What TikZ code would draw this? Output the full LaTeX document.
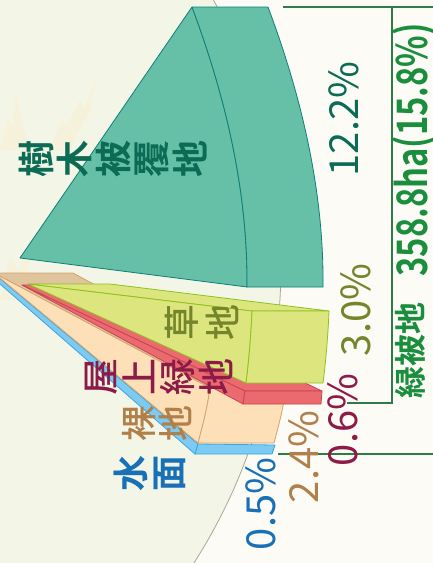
\documentclass[tikz,border=0pt]{standalone}
\usepackage{graphicx}
\usepackage{fontspec}
\setmainfont{Noto Sans CJK JP}[BoldFont={Noto Sans CJK JP Bold}]
\newfontfamily\jpmedium{Noto Sans CJK JP Medium}
\usetikzlibrary{positioning}
\definecolor{bgout}{HTML}{FCFBF6}
\definecolor{bgin}{HTML}{F3F6E6}
\definecolor{rimgray}{HTML}{ABA69C}
\definecolor{leafcol}{HTML}{F8F0D6}
\definecolor{treefill}{HTML}{66C0A8}
\definecolor{treeline}{HTML}{0E7F78}
\definecolor{treetext}{HTML}{0B6B55}
\definecolor{grassfill}{HTML}{DDE67E}
\definecolor{grassline}{HTML}{8CC21E}
\definecolor{grasstext}{HTML}{74852C}
\definecolor{rooffill}{HTML}{EB6A70}
\definecolor{roofline}{HTML}{C84650}
\definecolor{rooftext}{HTML}{8C1B48}
\definecolor{barefill}{HTML}{FDE0B8}
\definecolor{baretop}{HTML}{DFC49D}
\definecolor{bareline}{HTML}{D2A46E}
\definecolor{baretext}{HTML}{B1804A}
\definecolor{waterfill}{HTML}{7DCBF3}
\definecolor{waterline}{HTML}{3AA5DF}
\definecolor{watertext}{HTML}{1870B6}
\definecolor{greentext}{HTML}{1A8E3C}
\definecolor{greenline}{HTML}{2E7B48}
\tikzset{
    % wedge faces
    face/.style={line width=0.8pt, line join=round},
    % stacked (vertical) japanese labels
    vtext/.style={
    rotate=90,
    align=center,
    inner sep=0pt,
    font=\jpmedium\fontsize{37}{38.5}\selectfont
    },
    % percentages
    pct/.style={
    rotate=90,
    inner sep=0pt,
    font=\fontsize{40}{40}\selectfont
    },
    bracket/.style={greenline, line width=1.1pt},
}

\begin{document}
\begin{tikzpicture}[x=1pt,y=-1pt]
    \useasboundingbox (0,0) rectangle (433,563);
    \clip (0,0) rectangle (433,563);

    % background and rim of the pie
    \fill[bgout] (0,0) rectangle (433,563);
    \fill[bgin] (-272,265) circle[radius=553pt];
    \draw[rimgray, line width=0.8pt] (-272,265) circle[radius=553pt];
    \fill[leafcol, opacity=0.7] (0,150) -- (8,118) -- (12,126) -- (16,92) -- (22,122) -- (30,150) -- cycle;
    \fill[leafcol, opacity=0.7] (48,150) -- (62,120) -- (66,128) -- (80,100) -- (84,108) -- (96,80) -- (90,112) -- (78,132) -- (70,150) -- cycle;
    \fill[leafcol, opacity=0.7] (0,300) -- (10,255) -- (18,270) -- (30,240) -- (28,275) -- (20,300) -- cycle;

    % water
    \filldraw[face, fill=waterfill, draw=waterline] (-8,272) -- (198,444) -- (195,454) -- (-8,277) -- cycle;
    \filldraw[face, fill=waterfill, draw=waterline] (198,444) -- (275,445) -- (272,454) -- (195,454) -- cycle;

    % bare ground
    \filldraw[face, fill=baretop, draw=bareline] (-6,273) -- (73,273) -- (286,388) -- (210,388) -- cycle;
    \filldraw[face, fill=barefill, draw=bareline] (-6,273) -- (210,388) .. controls (207,410) and (202,428) .. (198,443) -- cycle;
    \filldraw[face, fill=barefill, draw=bareline] (210,388) -- (286,388) .. controls (283,410) and (278,428) .. (274,443)
        -- (198,443) .. controls (202,428) and (207,410) .. (210,388);

    % roof greening
    \filldraw[face, fill=rooffill, draw=roofline] (22,285) -- (99,285) -- (322,391) -- (245,391) -- cycle;
    \filldraw[face, fill=rooffill, draw=roofline] (22,285) -- (245,391) -- (243,404) -- cycle;
    \filldraw[face, fill=rooffill, draw=roofline] (245,391) -- (322,391) -- (321,404) -- (243,404) -- cycle;

    % grass
    \filldraw[face, fill=grassfill, draw=grassline] (28,284) -- (110,284) -- (329,311) -- (252,311) -- cycle;
    \filldraw[face, fill=grassfill, draw=grassline] (28,284) -- (252,311) .. controls (251,335) and (249,360) .. (246,383) -- cycle;
    \filldraw[face, fill=grassfill, draw=grassline] (252,311) -- (329,311) .. controls (328,335) and (326,360) .. (323,383)
        -- (246,383) .. controls (249,360) and (251,335) .. (252,311);

    % tree cover
    \filldraw[face, fill=treefill, draw=treeline] (20,258) -- (192,7) .. controls (225,95) and (248,190) .. (247,287) -- cycle;
    \filldraw[face, fill=treefill, draw=treeline] (192,7) -- (268,7) .. controls (301,95) and (324,190) .. (323,287)
        -- (247,287) .. controls (248,190) and (225,95) .. (192,7);

    % bracket for the green total
    \coordinate (brtop) at (283,7);
    \coordinate (brtopend) at (433,7);
    \coordinate (brcorner) at (392,7);
    \coordinate (brbottom) at (392,403);
    \coordinate (brfoot) at (347,403);
    \coordinate (baseL) at (278,454);
    \coordinate (baseR) at (433,454);
    \draw[bracket] (brtop) -- (brtopend);
    \draw[bracket] (brcorner) -- (brbottom) -- (brfoot);
    \draw[bracket] (baseL) -- (baseR);

    % names
    \node (treelab)  [vtext, text=treetext, font=\bfseries\fontsize{37}{38.5}\selectfont] at (113,159) {樹\\木\\被\\覆\\地};
    \node (grasslab) [vtext, text=grasstext, font=\jpmedium\fontsize{36}{41}\selectfont] at (202,322) {草\\地};
    \node (rooflab)  [vtext, text=rooftext] at (159,377) {屋\\上\\緑\\地};
    \node (barelab)  [vtext, text=baretext, font=\jpmedium\fontsize{36}{36.5}\selectfont] at (157,423) {裸\\地};
    \node (waterlab) [vtext, text=watertext, font=\bfseries\fontsize{36}{38.5}\selectfont] at (150,473) {水\\面};

    % shares
    \node (treepct)  [pct, text=treetext]  at (344,119) {12.2\%};
    \node (grasspct) [pct, text=grasstext] at (356,310) {3.0\%};
    \node (roofpct)  [pct, text=rooftext]  at (343,420) {0.6\%};
    \node (barepct)  [pct, text=baretext]  at (304,457) {2.4\%};
    \node (waterpct) [pct, text=watertext] at (261,504) {0.5\%};
    \node (greentot) [pct, text=greentext, font=\bfseries\fontsize{42}{42}\selectfont] at (414,150) {\scalebox{0.78}[1]{358.8ha(15.8\%)}};
    \node (greenlab) [pct, text=greentext, font=\bfseries\fontsize{32}{32}\selectfont] at (410,350) {緑被地};
\end{tikzpicture}
\end{document}
